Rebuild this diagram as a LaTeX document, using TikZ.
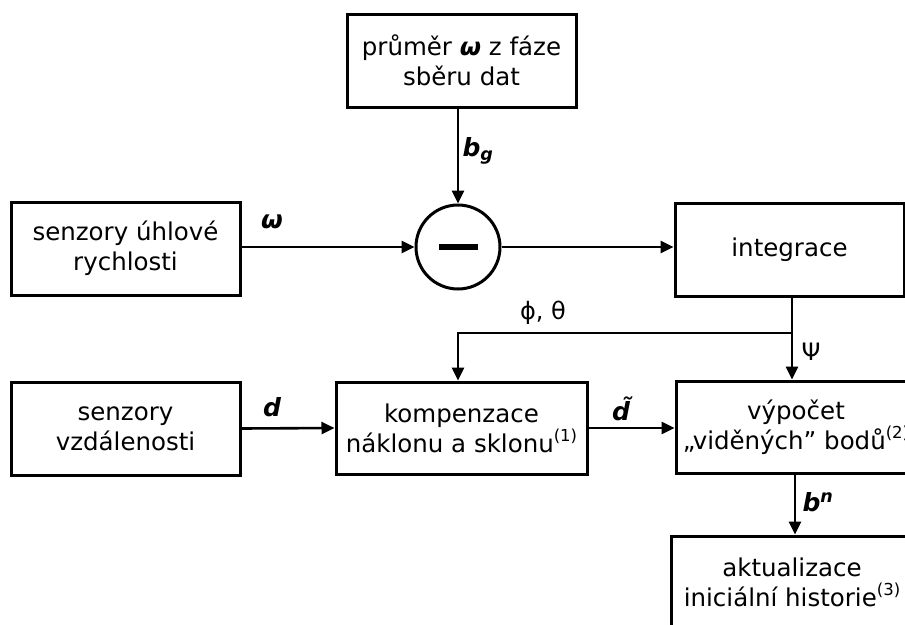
\documentclass[tikz,border=0pt]{standalone}
\usepackage{fontspec}
\setmainfont{DejaVu Sans}
\usetikzlibrary{arrows.meta}
\tikzset{
  blk/.style={draw, line width=3pt, align=center, inner sep=0pt,
    font=\fontsize{24.5}{30}\selectfont},
  conn/.style={line width=2.6pt, -{Triangle[length=13pt,width=12pt]}},
  lbl/.style={font=\fontsize{25}{28}\selectfont\bfseries\itshape, inner sep=0pt},
  lblr/.style={font=\fontsize{24}{28}\selectfont, inner sep=0pt},
}
\newcommand{\mysup}[1]{\raisebox{0.42em}{\fontsize{16.5}{16}\selectfont #1}}
\begin{document}
\begin{tikzpicture}[x=1pt,y=-1pt]
\useasboundingbox (0,0) rectangle (905,624);
\clip (0,0) rectangle (905,624);
\node[blk, minimum width=229pt, minimum height=93pt] (tb) at (461.5,60.5) {průměr \textbf{\textit{ω}} z fáze\\sběru dat};
\node[draw, circle, line width=3pt, minimum size=84pt, inner sep=0pt] (cir) at (458,247) {};
\draw[line width=6pt] ([xshift=-19pt]cir.center) -- ([xshift=20pt]cir.center);
\node[blk, minimum width=229pt, minimum height=93pt] (uhl) at (125.5,248.5) {senzory úhlové\\rychlosti};
\node[blk, minimum width=229pt, minimum height=93pt] (integ) at (789.5,249.5) {integrace};
\node[blk, minimum width=229pt, minimum height=93pt] (vzd) at (125.5,428.5) {senzory\\vzdálenosti};
\node[blk, minimum width=251pt, minimum height=92pt] (komp) at (461.5,428) {kompenzace\\náklonu a sklonu\mysup{(1)}};
\node[blk, minimum width=240pt, minimum height=92pt] (vyp) at (796,427) {výpočet\\„viděných” bodů\mysup{(2)}};
\node[blk, minimum width=242pt, minimum height=92pt] (akt) at (792,582) {aktualizace\\iniciální historie\mysup{(3)}};
\coordinate (j) at (792,333);
\coordinate (kj) at (458,333);
\coordinate (bx) at (795,0);
% connectors
\draw[conn] (cir.north |- tb.south) -- (cir.north);
\draw[conn] (uhl.east |- cir.west) -- (cir.west);
\draw[conn] (cir.east) -- (integ.west |- cir.east);
\draw[conn] (j |- integ.south) -- (j |- vyp.north);
\draw[conn] (j) -- (kj) -- (kj |- komp.north);
\draw[conn] (vzd.east) -- (komp.west);
\draw[conn] (komp.east) -- (vyp.west |- komp.east);
\draw[conn] (bx |- vyp.south) -- (bx |- akt.north);
% labels
\node[lbl] (lw) at (272,222) {ω};
\node[lbl] (lbg) at (478,151) {b\textsubscript{g}};
\node[lblr] (lpt) at (543,313) {ϕ, θ};
\node[lblr] (lpsi) at (811,352) {Ψ};
\node[lbl] (ldt) at (621,409) {d\char"0303};
\node[lbl] (ld) at (272,407) {d};
\node[lbl] (lbn) at (818,502) {b\textsuperscript{n}};
\end{tikzpicture}
\end{document}
